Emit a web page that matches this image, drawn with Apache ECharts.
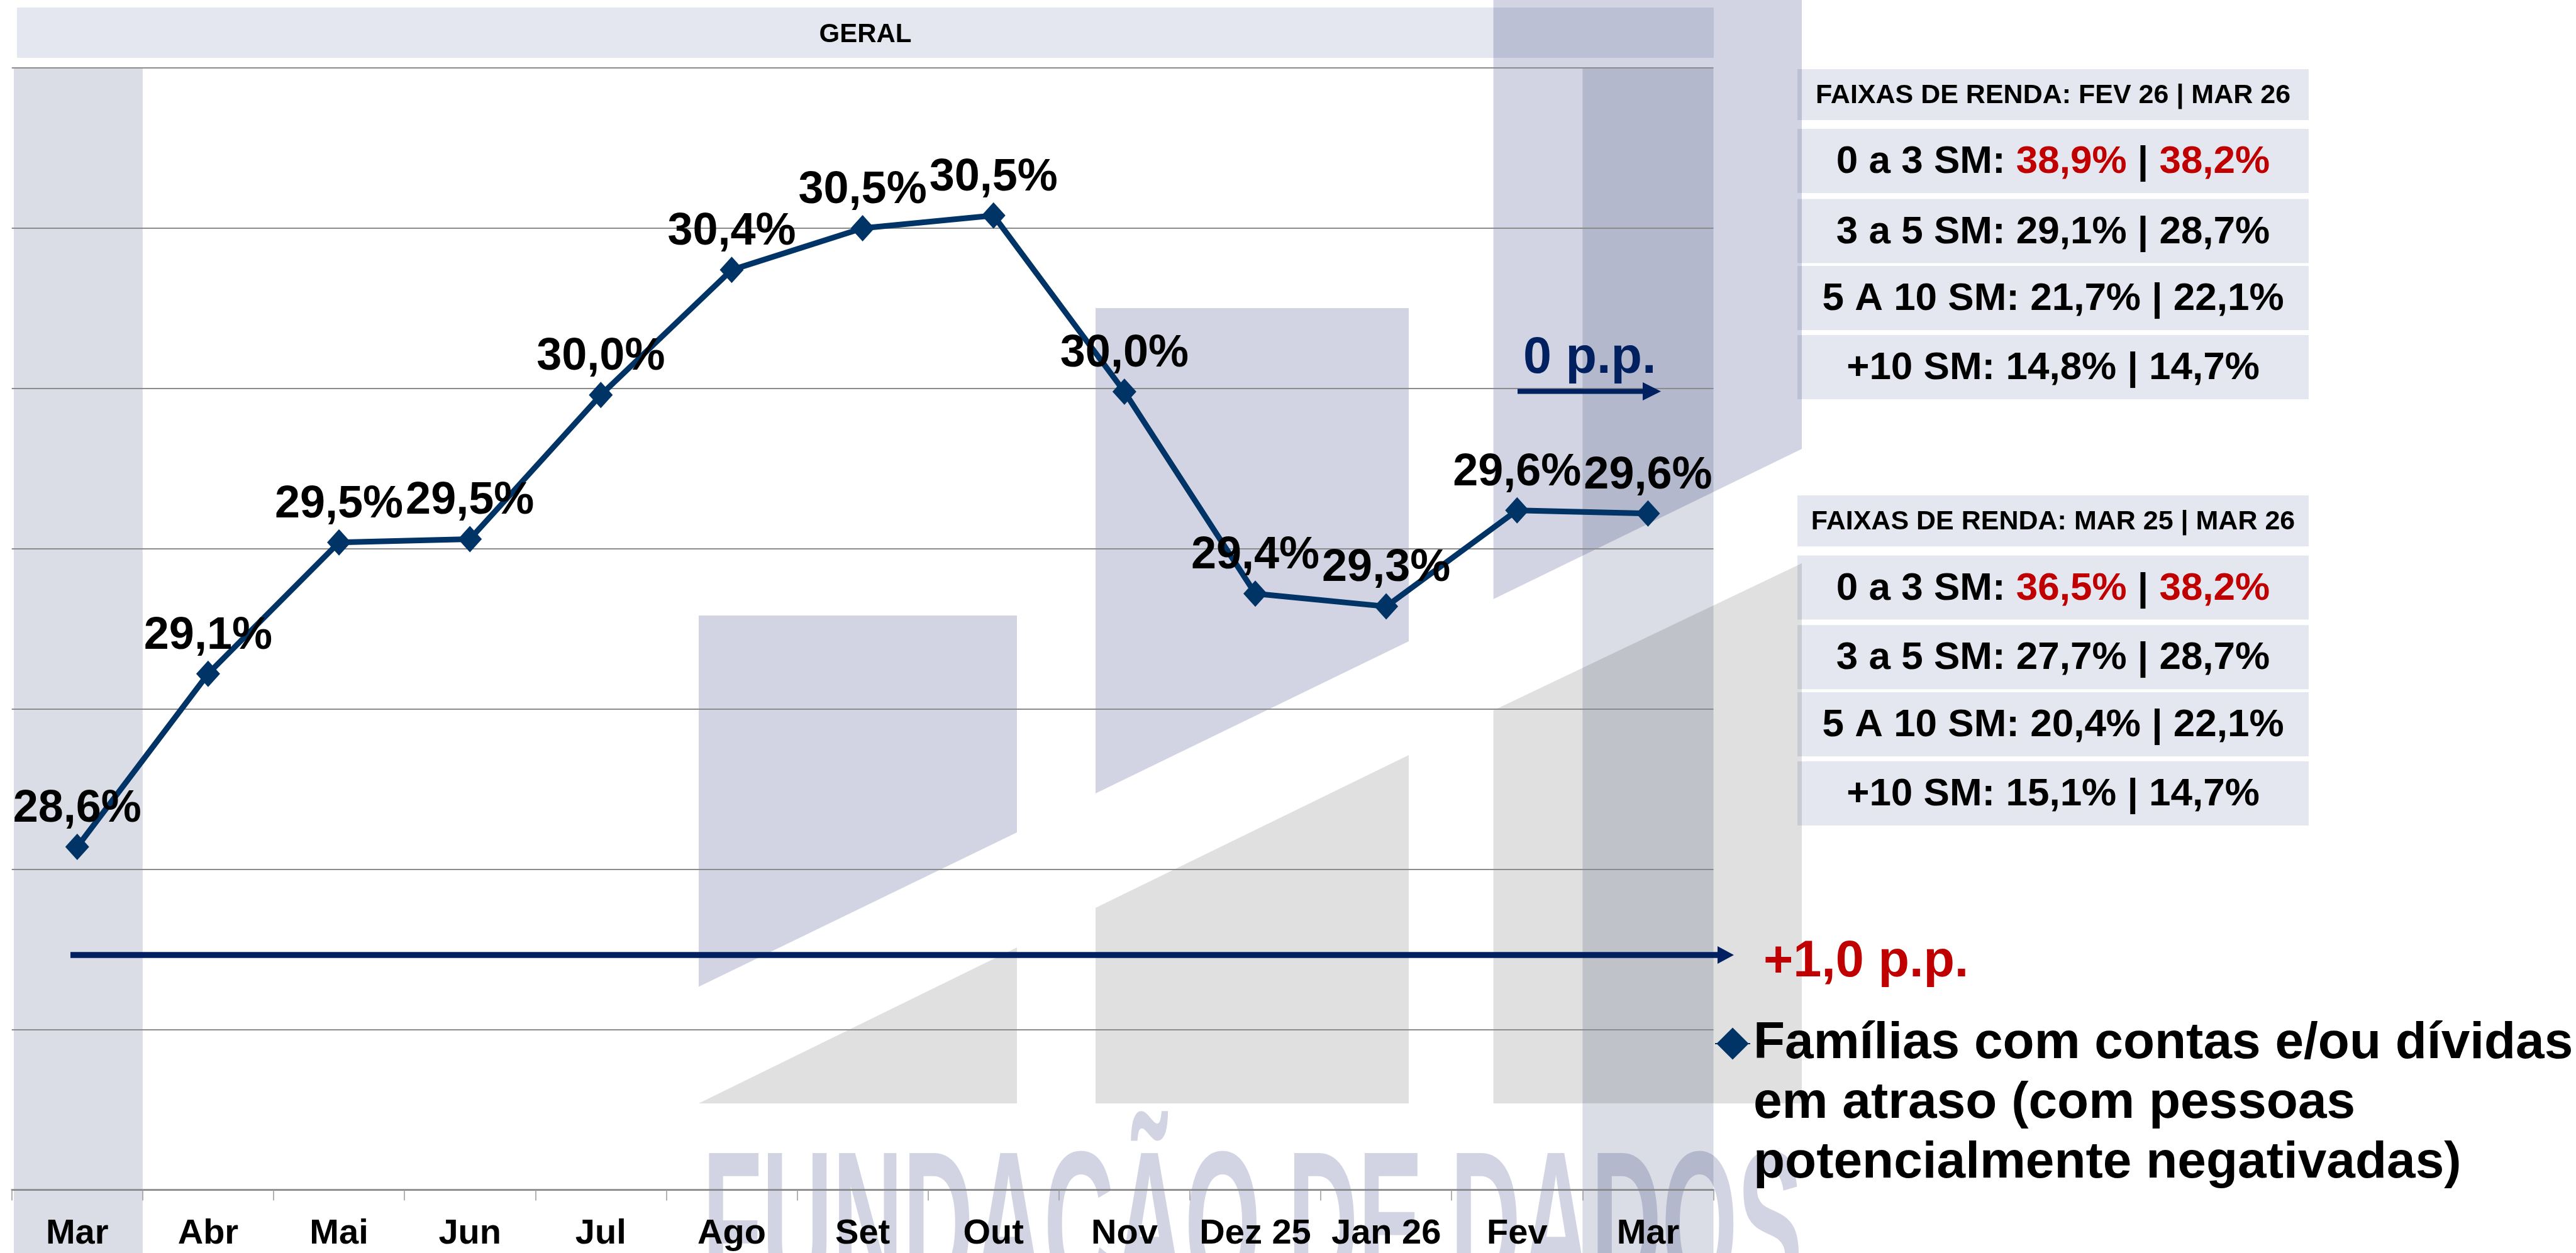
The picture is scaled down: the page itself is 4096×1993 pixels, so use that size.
<!DOCTYPE html>
<html>
<head>
<meta charset="utf-8">
<script src="https://cdn.jsdelivr.net/npm/echarts@6/dist/echarts.min.js"></script>
<style>
html, body { margin: 0; padding: 0; background: #fff; }
#main { width: 4096px; height: 1993px; }
</style>
</head>
<body>
<div id="main"></div>
<script>
// data
var months = ['Mar', 'Abr', 'Mai', 'Jun', 'Jul', 'Ago', 'Set', 'Out', 'Nov', 'Dez 25', 'Jan 26', 'Fev', 'Mar'];
var atraso = [28.57, 29.11, 29.52, 29.53, 29.98, 30.37, 30.50, 30.54, 29.99, 29.36, 29.32, 29.62, 29.61];
var seriesName = 'Famílias com contas e/ou dívidas\nem atraso (com pessoas\npotencialmente negativadas)';
var yMin = 27.5, yMax = 31, yStep = 0.5;

var faixas = ['0 a 3 SM', '3 a 5 SM', '5 A 10 SM', '+10 SM'];
var fev26 = [38.9, 29.1, 21.7, 14.8];
var mar26 = [38.2, 28.7, 22.1, 14.7];
var mar25 = [36.5, 27.7, 20.4, 15.1];
var titleMensal = 'FAIXAS DE RENDA: FEV 26 | MAR 26';
var titleAnual = 'FAIXAS DE RENDA: MAR 25 | MAR 26';
var varMensal = '0 p.p.';
var varAnual = '+1,0 p.p.';

var FONT = '"Liberation Sans", Arial, Helvetica, sans-serif';
var NAVY = '#002060';
var RED = '#C00000';

function pct(v) {
    return v.toFixed(1).replace('.', ',') + '%';
}

var chart = echarts.init(document.getElementById('main'));

var option = {
    animation: false,
    backgroundColor: '#fff',
    grid: { left: 18.7, top: 108.2, width: 2705.8, height: 1784.2 },
    legend: {
        data: [seriesName],
        left: 2726,
        top: 1422.5,
        padding: 0,
        itemWidth: 56,
        itemHeight: 64,
        selectedMode: false,
        // two empty lines first so the icon sits beside the first text line
        formatter: function (name) { return '\n\n' + name; },
        textStyle: {
            color: '#000', fontSize: 82, fontWeight: 'bold', fontFamily: FONT,
            lineHeight: 95
        }
    },
    xAxis: {
        type: 'category',
        data: months,
        boundaryGap: true,
        axisLine: { lineStyle: { color: '#888', width: 2.5 } },
        axisTick: { show: true, length: 17, lineStyle: { color: '#999', width: 1.5 } },
        axisLabel: {
            interval: 0, margin: 42, color: '#000',
            fontSize: 56, fontWeight: 'bold', fontFamily: FONT
        }
    },
    yAxis: {
        type: 'value',
        min: yMin, max: yMax, interval: yStep,
        axisLabel: { show: false },
        axisLine: { show: false },
        axisTick: { show: false },
        splitLine: { lineStyle: { color: '#8c8c8c', width: 2 } }
    },
    series: [{
        name: seriesName,
        type: 'line',
        data: atraso,
        symbol: 'diamond',
        symbolSize: [38, 42],
        z: 5,
        lineStyle: { color: '#003366', width: 9 },
        itemStyle: { color: '#003366' },
        label: {
            show: true, position: 'top', distance: 3,
            formatter: function (p) { return pct(p.value); },
            color: '#000', fontSize: 72, fontWeight: 'bold', fontFamily: FONT
        }
    }]
};
chart.setOption(option);

// decoration: watermark, highlight bands, tables and arrows
function buildGraphic() {
    var els = [];
    var c0 = chart.convertToPixel({ xAxisIndex: 0 }, 0);
    var cN = chart.convertToPixel({ xAxisIndex: 0 }, months.length - 1);
    var cw = (cN - c0) / (months.length - 1);
    var gTop = chart.convertToPixel({ yAxisIndex: 0 }, yMax);

    function poly(pts, fill) {
        els.push({ type: 'polygon', z: -1, silent: true, shape: { points: pts },
            style: { fill: fill, blend: 'multiply' } });
    }
    function rect(x, y, w, h, fill, z) {
        els.push({ type: 'rect', z: z || -1, silent: true, shape: { x: x, y: y, width: w, height: h },
            style: { fill: fill, blend: 'multiply' } });
    }
    function text(x, y, str, size, color, align, extra) {
        var st = {
            x: x, y: y, text: str, fill: color,
            font: 'bold ' + size + 'px ' + FONT,
            textAlign: align || 'center', textVerticalAlign: 'middle'
        };
        if (extra) { for (var k in extra) st[k] = extra[k]; }
        els.push({ type: 'text', z: 50, silent: true, style: st });
    }

    // watermark logo
    var lav = '#D2D4E3', gray = '#E0E0E0';
    poly([[1111, 979], [1617, 979], [1617, 1324], [1111, 1569.5]], lav);
    poly([[1742, 490], [2240, 490], [2240, 1020], [1742, 1262]], lav);
    poly([[2374.6, 0], [2865, 0], [2865, 714], [2374.6, 953]], lav);
    poly([[1111, 1755], [1617, 1507], [1617, 1755]], gray);
    poly([[1742, 1444], [2240, 1201], [2240, 1755], [1742, 1755]], gray);
    poly([[2374.6, 1130], [2865, 896], [2865, 1755], [2374.6, 1755]], gray);
    els.push({ type: 'text', z: -1, silent: true, x: 1117, y: 1805, scaleX: 0.47,
        style: { x: 0, y: 0, text: 'FUNDAÇÃO DE DADOS', fill: lav, blend: 'multiply',
            font: 'bold 330px ' + FONT, textAlign: 'left', textVerticalAlign: 'top' } });

    // highlight bands for first and last month
    var bandL = Math.max(c0 - cw / 2, 22);
    rect(bandL, gTop, c0 + cw / 2 - bandL, 1993 - gTop, '#DADDE5');
    rect(cN - cw / 2, gTop, cw, 1993 - gTop, '#DADDE5');

    // header band
    rect(27, 12, 2698, 80, '#E4E7EF');
    text(1376, 55, 'GERAL', 42, '#000');

    // tables
    var tx = 2858, tw = 813;
    function table(title, top, rowTops, a, b) {
        rect(tx, top, tw, 81, '#E4E7EF', 1);
        text(tx + tw / 2, top + 42, title, 43, '#000');
        for (var i = 0; i < faixas.length; i++) {
            rect(tx, rowTops[i], tw, 102, '#E4E7EF', 1);
            var s, extra = null;
            if (i === 0) {
                s = faixas[i] + ': {r|' + pct(a[i]) + '} | {r|' + pct(b[i]) + '}';
                extra = { rich: { r: { fill: RED, font: 'bold 62px ' + FONT,
                    fontSize: 62, fontWeight: 'bold', fontFamily: FONT } } };
            } else {
                s = faixas[i] + ': ' + pct(a[i]) + ' | ' + pct(b[i]);
            }
            text(tx + tw / 2, rowTops[i] + 53, s, 62, '#000', 'center', extra);
        }
    }
    table(titleMensal, 110, [205, 316.5, 423, 533], fev26, mar26);
    table(titleAnual, 788, [883.5, 994.3, 1101, 1211], mar25, mar26);

    // arrows
    els.push({ type: 'polyline', z: 40, silent: true, shape: { points: [[112, 1519], [2733, 1519]] },
        style: { stroke: NAVY, lineWidth: 9.5 } });
    els.push({ type: 'polygon', z: 40, silent: true, shape: { points: [[2731, 1505], [2757, 1519], [2731, 1533]] },
        style: { fill: NAVY } });
    els.push({ type: 'polyline', z: 40, silent: true, shape: { points: [[2413, 622.4], [2614, 622.4]] },
        style: { stroke: NAVY, lineWidth: 8 } });
    els.push({ type: 'polygon', z: 40, silent: true, shape: { points: [[2612, 608], [2641, 622.4], [2612, 637]] },
        style: { fill: NAVY } });
    text(2422, 571, varMensal, 81, NAVY, 'left');
    text(2804, 1531, varAnual, 81, RED, 'left');

    chart.setOption({ graphic: { elements: els } });
}
buildGraphic();
</script>
</body>
</html>
